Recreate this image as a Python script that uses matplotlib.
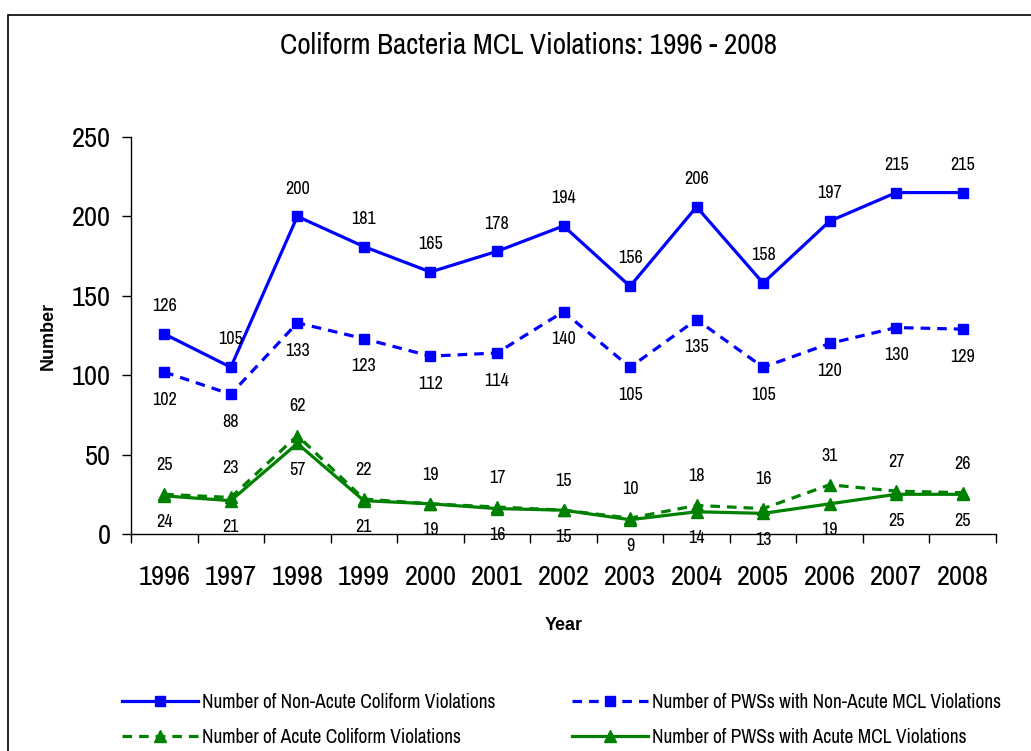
import numpy as np
import matplotlib
matplotlib.use("Agg")
import matplotlib.pyplot as plt
import matplotlib.patches as mpatches

# ---------------------------------------------------------------------------
# Data
# ---------------------------------------------------------------------------
years = ["1996", "1997", "1998", "1999", "2000", "2001", "2002",
         "2003", "2004", "2005", "2006", "2007", "2008"]
non_acute_viol = [126, 105, 200, 181, 165, 178, 194, 156, 206, 158, 197, 215, 215]
pws_non_acute = [102, 88, 133, 123, 112, 114, 140, 105, 135, 105, 120, 130, 129]
acute_viol = [25, 23, 62, 22, 19, 17, 15, 10, 18, 16, 31, 27, 26]
pws_acute = [24, 21, 57, 21, 19, 16, 15, 9, 14, 13, 19, 25, 25]

BLUE = "#0000FF"
GREEN = "#008000"
NARROW = ["Archivo Narrow", "PT Sans Narrow", "DejaVu Sans"]
DASH = (0, (3, 2.2))

W, H = 1031, 751
fig = plt.figure(figsize=(W / 100, H / 100), dpi=100)
ax = fig.add_axes([131 / W, 1 - 534 / H, (996 - 131) / W, (534 - 137) / H])

x = np.arange(len(years))

l1, = ax.plot(x, non_acute_viol, color=BLUE, lw=2.3, marker="s", ms=7.5)
l2, = ax.plot(x, pws_non_acute, color=BLUE, lw=2.3, ls=DASH, marker="s", ms=7.5)
l3, = ax.plot(x, acute_viol, color=GREEN, lw=2.3, ls=DASH, marker="^", ms=9)
l4, = ax.plot(x, pws_acute, color=GREEN, lw=2.3, marker="^", ms=9)


def _labels(vals, dy):
    for xi, v in zip(x, vals):
        ax.annotate(str(v), (xi, v), xytext=(0, dy), textcoords="offset points",
                    ha="center", va="center", fontsize=13, family=NARROW,
                    annotation_clip=False)


_labels(non_acute_viol, 20)
_labels(pws_non_acute, -20)
_labels(acute_viol, 21)
_labels(pws_acute, -19)

# Axes styling
ax.set_xlim(-0.5, len(years) - 0.5)
ax.set_ylim(0, 250)
ax.set_yticks(range(0, 251, 50))
ax.set_xticks(x)
ax.set_xticklabels(years)
ax.set_xticks(np.arange(-0.5, len(years), 1), minor=True)
ax.tick_params(axis="x", which="major", length=0, pad=22)
ax.tick_params(axis="x", which="minor", length=6.5, direction="out", width=1)
ax.tick_params(axis="y", length=6.5, direction="out", width=1, pad=8)
for lab in ax.get_xticklabels() + ax.get_yticklabels():
    lab.set_fontsize(20.5)
    lab.set_family(NARROW)
for side in ("top", "right"):
    ax.spines[side].set_visible(False)
for side in ("left", "bottom"):
    ax.spines[side].set_linewidth(1)

ax.set_ylabel("Number", fontsize=13, fontweight="bold", family="Liberation Sans")
ax.yaxis.set_label_coords((48 - 131) / 865, 0.5)
ax.set_xlabel("Year", fontsize=13, fontweight="bold", family="Liberation Sans")
ax.xaxis.set_label_coords(0.5, (534 - 626) / 397)
ax.yaxis.label.set_va("center")
ax.xaxis.label.set_va("center")

fig.text(529 / W, 1 - 45 / H, "Coliform Bacteria MCL Violations: 1996 - 2008",
         ha="center", va="center", fontsize=21, family=NARROW)

# Legend: two columns placed separately
leg_kw = dict(loc="center left", frameon=False, borderpad=0, borderaxespad=0,
              prop={"family": NARROW, "size": 14}, handlelength=3.9,
              handletextpad=0.2, labelspacing=0.85, markerscale=0.9)
fig.legend([l1, l3], ["Number of Non-Acute Coliform Violations",
                      "Number of Acute Coliform Violations"],
           bbox_to_anchor=(122 / W, 1 - 720 / H), **leg_kw)
fig.legend([l2, l4], ["Number of PWSs with Non-Acute MCL Violations",
                      "Number of PWSs with Acute MCL Violations"],
           bbox_to_anchor=(572 / W, 1 - 720 / H), **leg_kw)

# Chart frame
fig.patches.append(mpatches.Rectangle((8 / W, -0.1), 1.2, 1 - 15 / H + 0.1,
                                      transform=fig.transFigure, fill=False,
                                      edgecolor="black", lw=1.2))

fig.savefig("out.png", dpi=100)
